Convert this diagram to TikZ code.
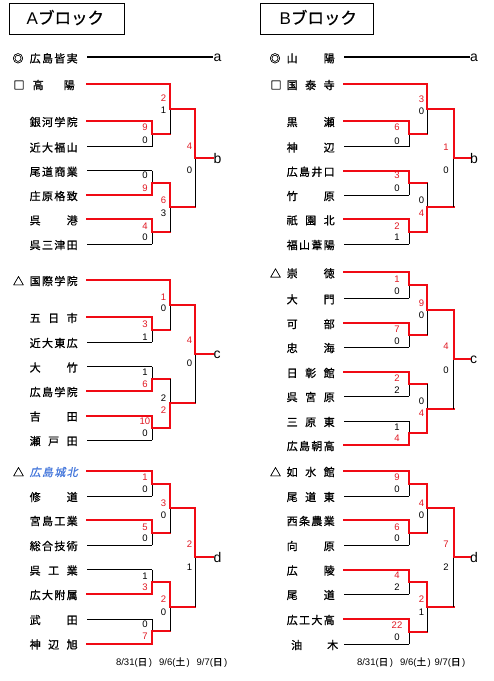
\documentclass[tikz,border=0pt]{standalone}
\usepackage{fontspec}
\setmainfont{Liberation Sans}
\newfontfamily\jp{Noto Sans CJK JP}[FakeBold=0.8]
\newfontfamily\jpit{Noto Sans CJK JP}[FakeSlant=0.2,FakeBold=0.8]
\usetikzlibrary{calc}
\definecolor{lred}{RGB}{240,10,20}
\definecolor{sred}{RGB}{225,25,35}
\definecolor{cblue}{RGB}{70,120,220}
\newcommand\gp{\hfill}
\tikzset{
 win/.style={draw=lred, line width=2pt, line cap=rect},
 lose/.style={draw=black, line width=0.9pt},
 aline/.style={draw=black, line width=2pt},
 tname/.style={inner sep=0pt, anchor=base west, font=\jp\fontsize{11}{13}\selectfont},
 symb/.style={inner sep=0pt, anchor=base, font=\jp\fontsize{11}{13}\selectfont},
 score/.style={inner sep=0pt, font=\fontsize{9.5}{11}\selectfont},
 letter/.style={inner sep=0pt, anchor=base west, font=\fontsize{14}{16}\selectfont},
 datel/.style={inner sep=0pt, anchor=base, font=\fontsize{9.5}{11}\selectfont},
 titlebox/.style={draw, line width=0.8pt, minimum height=31.5pt, inner sep=0pt},
 ttext/.style={inner sep=0pt, anchor=base, font=\fontsize{17}{20}\selectfont}
}
\newcommand\team[6]{\node[tname] (#1n) at (#2,#3+5.2) {\makebox[#4pt][l]{#5}};\coordinate (#1) at (#6,#3);}
\newcommand\mtop[5]{%
  \coordinate (#4) at ($(#1 -| #3)!0.5!(#2 -| #3)$);
  \draw[#5] (#2) -- (#2 -| #3);
  \draw[lose] (#2 -| #3) -- (#4);
  \draw[win] (#1) -- (#1 -| #3) -- (#4);}
\newcommand\mbot[5]{%
  \coordinate (#4) at ($(#1 -| #3)!0.5!(#2 -| #3)$);
  \draw[#5] (#1) -- (#1 -| #3);
  \draw[lose] (#1 -| #3) -- (#4);
  \draw[win] (#2) -- (#2 -| #3) -- (#4);}
\newcommand\scw[4]{\node[score,text=sred] (#1) at (#2,#3) {#4};}
\newcommand\scl[4]{\node[score] (#1) at (#2,#3) {#4};}
\begin{document}
\begin{tikzpicture}[x=1pt,y=-1pt]
\useasboundingbox (0,0) rectangle (494,681);
\fill[white] (0,0) rectangle (494,681);
% titles
\node[titlebox, minimum width=114.5pt] (TA) at (66.75,18.75) {};
\node[ttext] (TAt) at (65.4,24) {A{\jp\fontsize{16.5}{20}\selectfont ブロック}};
\node[titlebox, minimum width=113pt] (TB) at (316.5,18.75) {};
\node[ttext] (TBt) at (318.3,24) {B{\jp\fontsize{16.5}{20}\selectfont ブロック}};
% round x positions
\coordinate (AR1) at (152,0); \coordinate (AR2) at (170,0); \coordinate (AR3) at (195,0);
\coordinate (BR1) at (409,0); \coordinate (BR2) at (427,0); \coordinate (BR3) at (453.5,0);
\coordinate (AE) at (213,0); \coordinate (BE) at (469.5,0);
%% ================= A block =================
\node[symb] (Aasym) at (18,62.5) {◎};
\team{Aa}{29.5}{57.3}{48}{広\gp 島\gp 皆\gp 実}{87}
\node[letter] (La) at (213.3,61.8) {a};
\draw[aline] (Aa) -- (Aa -| La.base west);
% section b
\node[symb] (Ab1sym) at (19,89.2) {□};
\team{Ab1}{32.5}{84}{42}{高\gp 陽}{87}
\team{Ab2}{29.5}{121}{48}{銀\gp 河\gp 学\gp 院}{87}
\team{Ab3}{29.5}{146.5}{48}{近\gp 大\gp 福\gp 山}{87}
\team{Ab4}{29.5}{170.7}{48}{尾\gp 道\gp 商\gp 業}{87}
\team{Ab5}{29.5}{195}{48}{庄\gp 原\gp 格\gp 致}{87}
\team{Ab6}{29.5}{219.3}{48}{呉\gp 港}{87}
\team{Ab7}{29.5}{244}{48}{呉\gp 三\gp 津\gp 田}{87}
\mtop{Ab2}{Ab3}{AR1}{Abm1}{lose}
\mbot{Ab4}{Ab5}{AR1}{Abm2}{lose}
\mtop{Ab6}{Ab7}{AR1}{Abm3}{lose}
\mtop{Ab1}{Abm1}{AR2}{Abm4}{win}
\mtop{Abm2}{Abm3}{AR2}{Abm5}{win}
\mtop{Abm4}{Abm5}{AR3}{Abm6}{win}
\path (Abm6 -| AE) ++(0.3,5) node[letter] (Lb) {b};
\draw[win] (Abm6) -- (Abm6 -| Lb.base west);
\scw{sA1}{145}{127.5}{9} \scl{sA2}{145}{140}{0}
\scl{sA3}{145}{175}{0} \scw{sA4}{145}{188}{9}
\scw{sA5}{145}{226}{4} \scl{sA6}{145}{237}{0}
\scw{sA7}{163.5}{98.5}{2} \scl{sA8}{163.5}{110}{1}
\scw{sA9}{163.5}{200}{6} \scl{sA10}{163.5}{213}{3}
\scw{sA11}{189.5}{146}{4} \scl{sA12}{189.5}{170}{0}
% section c
\node[symb] (Ac1sym) at (18.5,285.2) {△};
\team{Ac1}{29.5}{280}{48}{国\gp 際\gp 学\gp 院}{87}
\team{Ac2}{29.5}{317}{48}{五\gp 日\gp 市}{87}
\team{Ac3}{29.5}{342}{48}{近\gp 大\gp 東\gp 広}{87}
\team{Ac4}{29.5}{366.5}{48}{大\gp 竹}{87}
\team{Ac5}{29.5}{391}{48}{広\gp 島\gp 学\gp 院}{87}
\team{Ac6}{29.5}{415.5}{48}{吉\gp 田}{87}
\team{Ac7}{29.5}{440}{48}{瀬\gp 戸\gp 田}{87}
\mtop{Ac2}{Ac3}{AR1}{Acm1}{lose}
\mbot{Ac4}{Ac5}{AR1}{Acm2}{lose}
\mtop{Ac6}{Ac7}{AR1}{Acm3}{lose}
\mtop{Ac1}{Acm1}{AR2}{Acm4}{win}
\mbot{Acm2}{Acm3}{AR2}{Acm5}{win}
\mtop{Acm4}{Acm5}{AR3}{Acm6}{win}
\path (Acm6 -| AE) ++(0.3,4.6) node[letter] (Lc) {c};
\draw[win] (Acm6) -- (Acm6 -| Lc.base west);
\scw{sA13}{145}{324}{3} \scl{sA14}{145}{337}{1}
\scl{sA15}{145}{372}{1} \scw{sA16}{145}{384}{6}
\scw{sA17}{145}{421}{10} \scl{sA18}{145}{433}{0}
\scw{sA19}{163.5}{297}{1} \scl{sA20}{163.5}{308}{0}
\scl{sA21}{163.5}{398}{2} \scw{sA22}{163.5}{410}{2}
\scw{sA23}{189.5}{340}{4} \scl{sA24}{189.5}{363}{0}
% section d
\node[symb] (Ad1sym) at (18.5,476.2) {△};
\node[tname, font=\jpit\fontsize{11}{13}\selectfont, text=cblue] (Ad1n) at (29.5,476.2) {\makebox[48pt][l]{広\gp 島\gp 城\gp 北}};
\coordinate (Ad1) at (87,471);
\team{Ad2}{29.5}{496}{48}{修\gp 道}{87}
\team{Ad3}{29.5}{520}{48}{宮\gp 島\gp 工\gp 業}{87}
\team{Ad4}{29.5}{545}{48}{総\gp 合\gp 技\gp 術}{87}
\team{Ad5}{29.5}{569.5}{48}{呉\gp 工\gp 業}{87}
\team{Ad6}{29.5}{594}{48}{広\gp 大\gp 附\gp 属}{87}
\team{Ad7}{29.5}{619}{48}{武\gp 田}{87}
\team{Ad8}{29.5}{643.5}{48}{神\gp 辺\gp 旭}{87}
\mtop{Ad1}{Ad2}{AR1}{Adm1}{lose}
\mtop{Ad3}{Ad4}{AR1}{Adm2}{lose}
\mbot{Ad5}{Ad6}{AR1}{Adm3}{lose}
\mbot{Ad7}{Ad8}{AR1}{Adm4}{lose}
\mtop{Adm1}{Adm2}{AR2}{Adm5}{win}
\mtop{Adm3}{Adm4}{AR2}{Adm6}{win}
\mtop{Adm5}{Adm6}{AR3}{Adm7}{win}
\path (Adm7 -| AE) ++(0.3,5) node[letter] (Ld) {d};
\draw[win] (Adm7) -- (Adm7 -| Ld.base west);
\scw{sA25}{145}{477}{1} \scl{sA26}{145}{489}{0}
\scw{sA27}{145}{527}{5} \scl{sA28}{145}{538}{0}
\scl{sA29}{145}{576}{1} \scw{sA30}{145}{587}{3}
\scl{sA31}{145}{624}{0} \scw{sA32}{145}{636}{7}
\scw{sA33}{163.5}{503}{3} \scl{sA34}{163.5}{515}{0}
\scw{sA35}{163.5}{599}{2} \scl{sA36}{163.5}{612}{0}
\scw{sA37}{189.5}{544}{2} \scl{sA38}{189.5}{567}{1}
\node[datel] (dA1) at (134,665.4) {8/31({\jp 日}\,)};
\node[datel] (dA2) at (174.5,665.4) {9/6({\jp 土}\,)};
\node[datel] (dA3) at (212,665.4) {9/7({\jp 日}\,)};
%% ================= B block =================
\node[symb] (Basym) at (275,62.5) {◎};
\team{Ba}{286.5}{57.3}{48}{山\gp 陽}{344}
\node[letter] (Lba) at (470,61.8) {a};
\draw[aline] (Ba) -- (Ba -| Lba.base west);
% section b
\node[symb] (Bb1sym) at (276,89.2) {□};
\team{Bb1}{286.5}{84}{48}{国\gp 泰\gp 寺}{344}
\team{Bb2}{286.5}{121}{48}{黒\gp 瀬}{344}
\team{Bb3}{286.5}{146.5}{48}{神\gp 辺}{344}
\team{Bb4}{286.5}{170.7}{48}{広\gp 島\gp 井\gp 口}{344}
\team{Bb5}{286.5}{195}{48}{竹\gp 原}{344}
\team{Bb6}{286.5}{219.3}{48}{祇\gp 園\gp 北}{344}
\team{Bb7}{286.5}{244}{48}{福\gp 山\gp 葦\gp 陽}{344}
\mtop{Bb2}{Bb3}{BR1}{Bbm1}{lose}
\mtop{Bb4}{Bb5}{BR1}{Bbm2}{lose}
\mtop{Bb6}{Bb7}{BR1}{Bbm3}{lose}
\mtop{Bb1}{Bbm1}{BR2}{Bbm4}{win}
\mbot{Bbm2}{Bbm3}{BR2}{Bbm5}{win}
\mtop{Bbm4}{Bbm5}{BR3}{Bbm6}{win}
\path (Bbm6 -| BE) ++(0.5,5) node[letter] (Lbb) {b};
\draw[win] (Bbm6) -- (Bbm6 -| Lbb.base west);
\scw{sB1}{421.5}{99}{3} \scl{sB2}{421.5}{111}{0}
\scw{sB3}{397}{127}{6} \scl{sB4}{397}{141}{0}
\scw{sB5}{397}{175}{3} \scl{sB6}{397}{188}{0}
\scw{sB7}{397}{226}{2} \scl{sB8}{397}{237}{1}
\scl{sB9}{421.5}{200}{0} \scw{sB10}{421.5}{213}{4}
\scw{sB11}{446}{147}{1} \scl{sB12}{446}{170}{0}
% section c
\node[symb] (Bc1sym) at (275.5,277.5) {△};
\team{Bc1}{286.5}{272.3}{48}{崇\gp 徳}{344}
\team{Bc2}{286.5}{298.3}{48}{大\gp 門}{344}
\team{Bc3}{286.5}{323}{48}{可\gp 部}{344}
\team{Bc4}{286.5}{347}{48}{忠\gp 海}{344}
\team{Bc5}{286.5}{372}{48}{日\gp 彰\gp 館}{344}
\team{Bc6}{286.5}{396}{48}{呉\gp 宮\gp 原}{344}
\team{Bc7}{286.5}{421}{48}{三\gp 原\gp 東}{344}
\team{Bc8}{286.5}{445}{48}{広\gp 島\gp 朝\gp 高}{344}
\mtop{Bc1}{Bc2}{BR1}{Bcm1}{lose}
\mtop{Bc3}{Bc4}{BR1}{Bcm2}{lose}
\mtop{Bc5}{Bc6}{BR1}{Bcm3}{lose}
\mbot{Bc7}{Bc8}{BR1}{Bcm4}{lose}
\mtop{Bcm1}{Bcm2}{BR2}{Bcm5}{win}
\mbot{Bcm3}{Bcm4}{BR2}{Bcm6}{win}
\mtop{Bcm5}{Bcm6}{BR3}{Bcm7}{win}
\path (Bcm7 -| BE) ++(0.5,4.6) node[letter] (Lbc) {c};
\draw[win] (Bcm7) -- (Bcm7 -| Lbc.base west);
\scw{sB13}{397}{279}{1} \scl{sB14}{397}{291}{0}
\scw{sB15}{397}{329}{7} \scl{sB16}{397}{341}{0}
\scw{sB17}{397}{378}{2} \scl{sB18}{397}{390}{2}
\scl{sB19}{397}{427}{1} \scw{sB20}{397}{438}{4}
\scw{sB21}{421.5}{303}{9} \scl{sB22}{421.5}{315}{0}
\scl{sB23}{421.5}{401}{0} \scw{sB24}{421.5}{413}{4}
\scw{sB25}{446}{346}{4} \scl{sB26}{446}{370}{0}
% section d
\node[symb] (Bd1sym) at (275.5,476.2) {△};
\team{Bd1}{286.5}{471}{48}{如\gp 水\gp 館}{344}
\team{Bd2}{286.5}{496}{48}{尾\gp 道\gp 東}{344}
\team{Bd3}{286.5}{520}{48}{西\gp 条\gp 農\gp 業}{344}
\team{Bd4}{286.5}{545}{48}{向\gp 原}{344}
\team{Bd5}{286.5}{569.5}{48}{広\gp 陵}{344}
\team{Bd6}{286.5}{594}{48}{尾\gp 道}{344}
\team{Bd7}{286.5}{619}{48}{広\gp 工\gp 大\gp 高}{344}
\team{Bd8}{291}{644}{47}{油\gp 木}{344}
\mtop{Bd1}{Bd2}{BR1}{Bdm1}{lose}
\mtop{Bd3}{Bd4}{BR1}{Bdm2}{lose}
\mtop{Bd5}{Bd6}{BR1}{Bdm3}{lose}
\mtop{Bd7}{Bd8}{BR1}{Bdm4}{lose}
\mtop{Bdm1}{Bdm2}{BR2}{Bdm5}{win}
\mtop{Bdm3}{Bdm4}{BR2}{Bdm6}{win}
\mtop{Bdm5}{Bdm6}{BR3}{Bdm7}{win}
\path (Bdm7 -| BE) ++(0.5,5) node[letter] (Lbd) {d};
\draw[win] (Bdm7) -- (Bdm7 -| Lbd.base west);
\scw{sB27}{397}{477}{9} \scl{sB28}{397}{489}{0}
\scw{sB29}{397}{527}{6} \scl{sB30}{397}{538}{0}
\scw{sB31}{397}{575}{4} \scl{sB32}{397}{587}{2}
\scw{sB33}{397}{625}{22} \scl{sB34}{397}{637}{0}
\scw{sB35}{421.5}{503}{4} \scl{sB36}{421.5}{515}{0}
\scw{sB37}{421.5}{599}{2} \scl{sB38}{421.5}{612}{1}
\scw{sB39}{446}{544}{7} \scl{sB40}{446}{567}{2}
\node[datel] (dB1) at (375,665.4) {8/31({\jp 日}\,)};
\node[datel] (dB2) at (415.5,665.4) {9/6({\jp 土}\,)};
\node[datel] (dB3) at (450,665.4) {9/7({\jp 日}\,)};
\end{tikzpicture}
\end{document}
